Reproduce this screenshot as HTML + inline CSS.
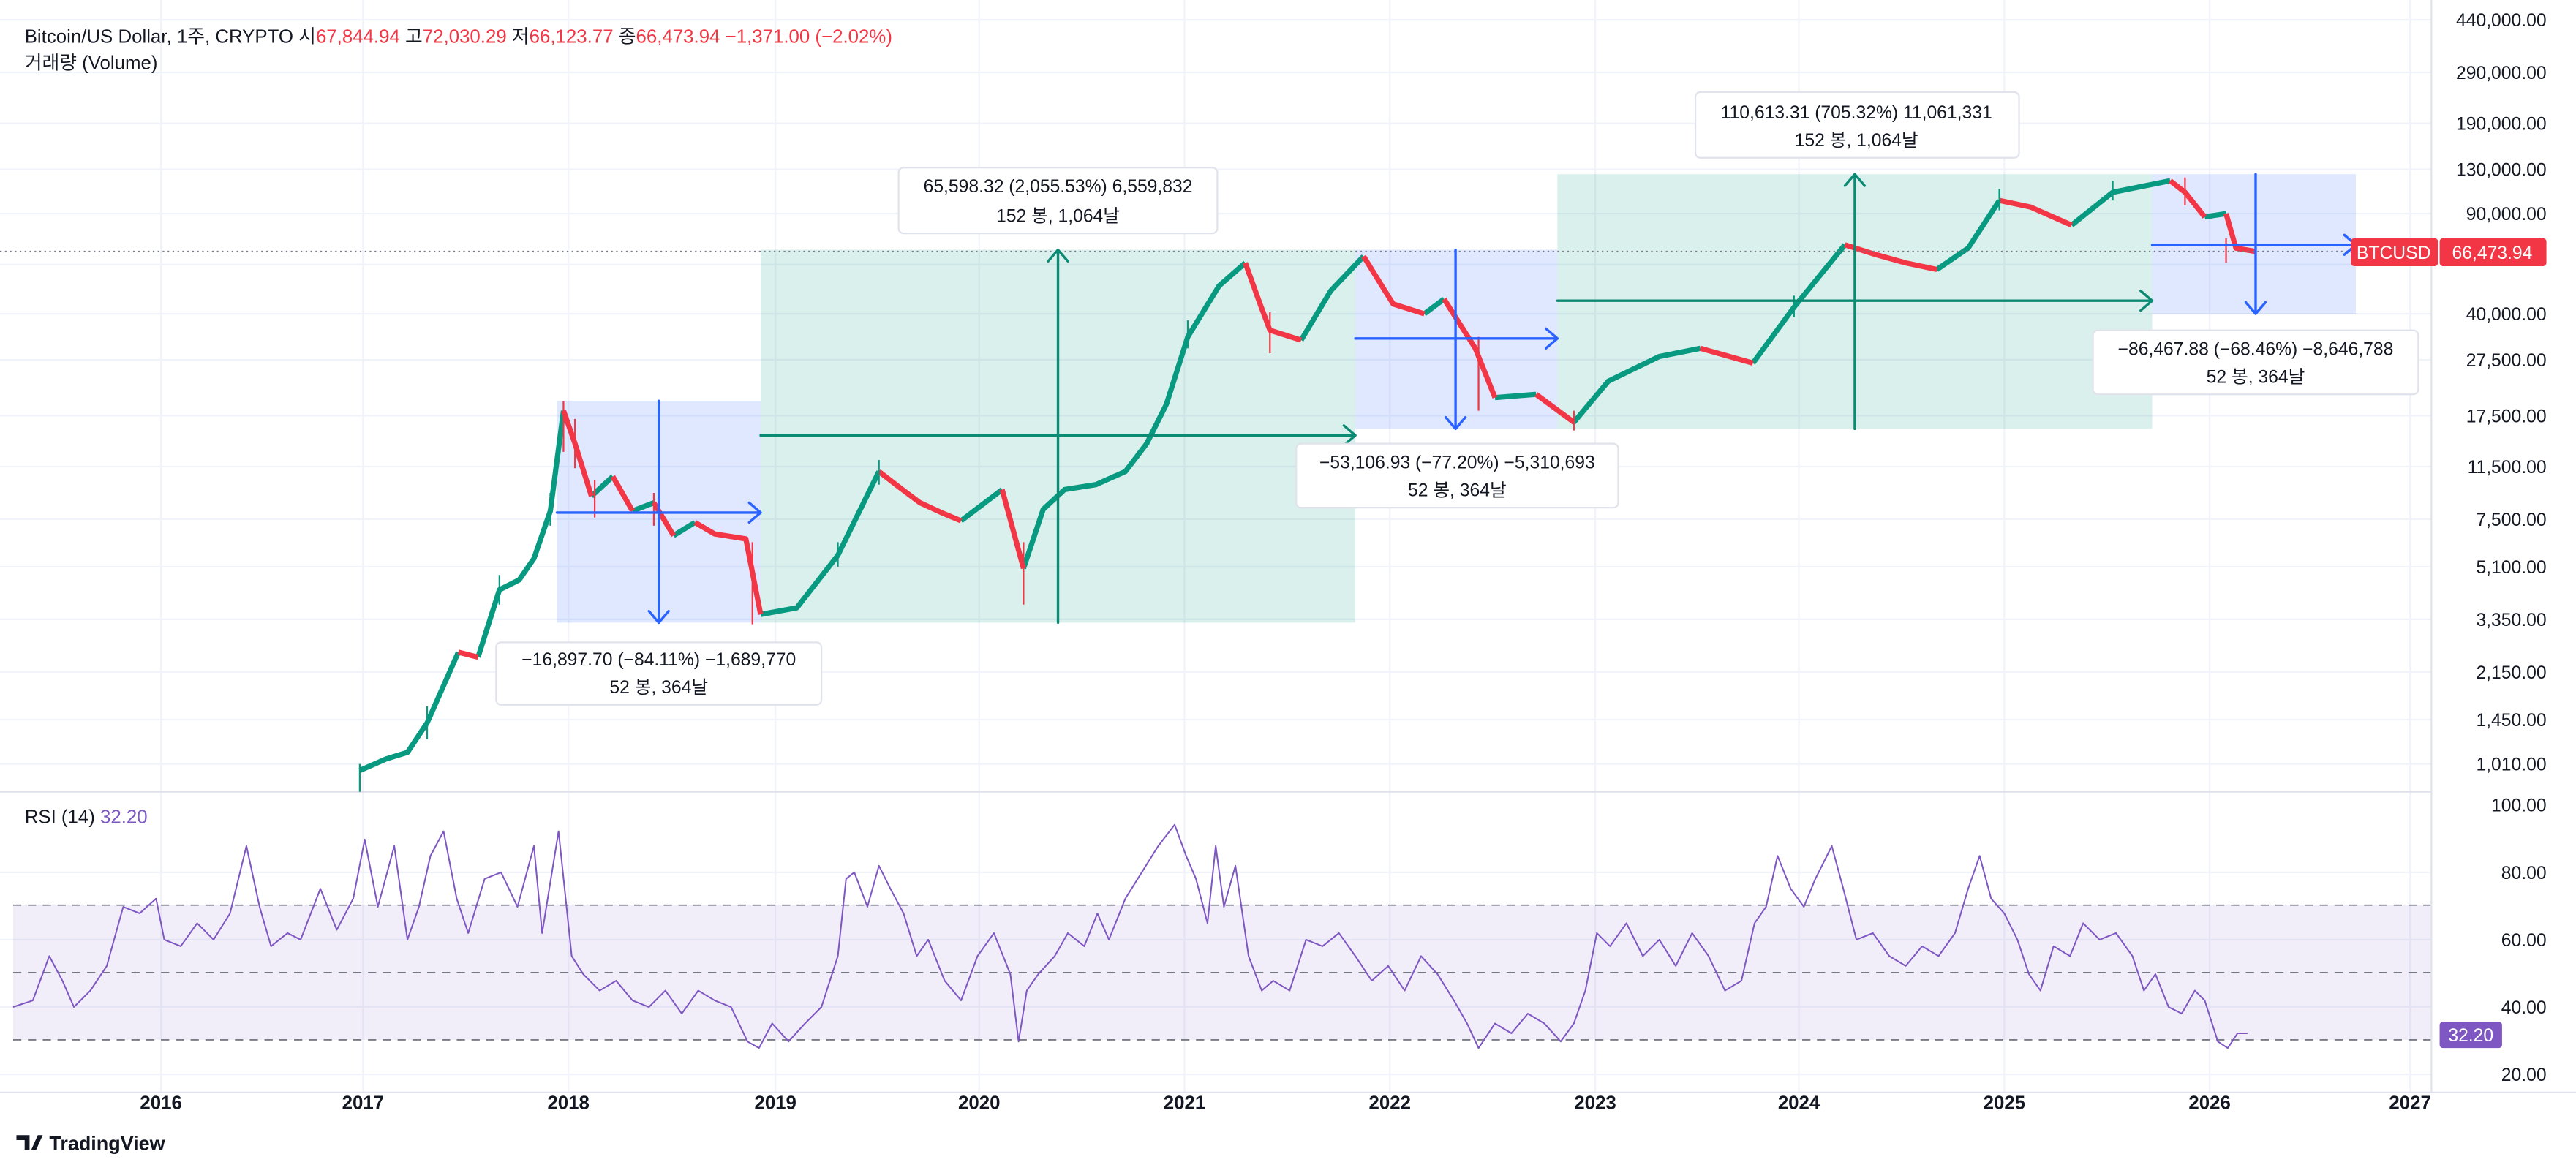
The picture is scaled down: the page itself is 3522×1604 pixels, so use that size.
<!DOCTYPE html>
<html><head><meta charset="utf-8"><style>
html,body{margin:0;padding:0;background:#fff;}
svg{display:block;font-family:"Liberation Sans","Noto Sans CJK KR",sans-serif;}
</style></head><body>
<svg width="3522" height="1604" viewBox="0 0 1568 714" xmlns="http://www.w3.org/2000/svg">
<rect width="1568" height="714" fill="#fff"/>
<g stroke="#f0f3fa" stroke-width="1">
<path d="M98 0V665M221 0V665M346 0V665M472 0V665M596 0V665M721 0V665M846 0V665M971 0V665M1095 0V665M1220 0V665M1345 0V665M1467 0V665"/>
<path d="M0 12H1480M0 44H1480M0 75H1480M0 103H1480M0 130H1480M0 161H1480M0 191H1480M0 219H1480M0 253H1480M0 284H1480M0 316H1480M0 345H1480M0 377H1480M0 409H1480M0 438H1480M0 465H1480M0 531H1480M0 572H1480M0 613H1480M0 654H1480"/>
</g>
<rect x="8" y="551" width="1472" height="82" fill="#7e57c2" fill-opacity="0.1"/>
<g stroke="#787b86" stroke-dasharray="5,4" stroke-width="0.8">
<line x1="8" y1="551" x2="1480" y2="551"/><line x1="8" y1="592" x2="1480" y2="592"/><line x1="8" y1="633" x2="1480" y2="633"/></g>
<line x1="0" y1="482" x2="1480" y2="482" stroke="#e0e3eb"/>
<line x1="1480" y1="0" x2="1480" y2="665" stroke="#e0e3eb"/>
<line x1="0" y1="665" x2="1568" y2="665" stroke="#e0e3eb"/>
<rect x="339" y="244" width="124" height="135" fill="#2962ff" fill-opacity="0.15"/>
<rect x="463" y="152" width="362" height="227" fill="#089981" fill-opacity="0.15"/>
<rect x="825" y="152" width="123" height="109" fill="#2962ff" fill-opacity="0.15"/>
<rect x="948" y="106" width="362" height="155" fill="#089981" fill-opacity="0.15"/>
<rect x="1310" y="106" width="124" height="85" fill="#2962ff" fill-opacity="0.15"/>
<!-- price -->
<g fill="none" stroke-width="3.2" stroke-linejoin="round" stroke-linecap="butt">
<path stroke="#089981" d="M219 469L235 462L248 458L260 440L279 397M291 400L304 359L316 353L325 340L335 311L343 250M360 302L373 290M385 311L398 306M410 326L423 318M463 374L485 370L510 338L535 287M585 317L610 298M623 346L635 310L648 298L667 295L685 287L698 270L710 246L723 205L742 174L758 160M792 207L810 177L830 156M867 191L879 182M910 242L935 240M958 257L979 232L1010 217L1035 212M1067 221L1092 187L1123 149M1179 164L1198 151L1217 122M1261 137L1286 117L1321 110M1342 132L1355 130"/>
<path stroke="#f23645" d="M279 397L291 400M343 250L350 270L360 302M373 290L385 311M398 306L410 326M423 318L435 325L454 328L463 374M535 287L548 297L560 306L573 312L585 317M610 298L623 346M758 160L767 185L773 201L792 207M830 156L848 185L867 191M879 182L898 212L910 242M935 240L958 257M1035 212L1067 221M1123 149L1142 155L1160 160L1179 164M1217 122L1236 126L1261 137M1321 110L1330 117L1342 132M1355 130L1361 151L1373 153"/>
</g>
<g stroke-width="1" fill="none">
<path stroke="#f23645" d="M343 244V275M350 255V285M362 292V315M398 300V320M458 330V380M623 330V368M773 190V215M900 205V250M958 250V262M1330 108V125M1355 145V160"/>
<path stroke="#089981" d="M219 465V482M260 430V450M304 350V368M335 300V320M510 330V345M535 280V295M723 195V212M1092 180V193M1217 115V128M1286 110V122"/>
</g>
<line x1="0" y1="153" x2="1480" y2="153" stroke="#787b86" stroke-dasharray="1,2" stroke-width="0.8"/>
<g fill="none" stroke-width="1.5" stroke-linecap="round" stroke-linejoin="round">
<g stroke="#2962ff"><path d="M401 244V379M395 372l6 7 6-7M339 312H463M456 306l7 6-7 6"/>
<path d="M886 152V261M880 254l6 7 6-7M825 206H948M941 200l7 6-7 6"/>
<path d="M1373 106V191M1367 184l6 7 6-7M1310 149H1434M1427 143l7 6-7 6"/></g>
<g stroke="#0b8a74"><path d="M644 379V152M638 159l6-7 6 7M463 265H825M818 259l7 6-7 6"/>
<path d="M1129 261V106M1123 113l6-7 6 7M948 183H1310M1303 177l7 6-7 6"/></g>
</g>
<g font-size="11" fill="#131722" text-anchor="middle">
<rect x="302" y="391" width="198" height="38" rx="3" fill="#fff" stroke="#e0e3eb"/>
<text x="401" y="405">−16,897.70 (−84.11%) −1,689,770</text><text x="401" y="422">52 봉, 364날</text>
<rect x="547" y="102" width="194" height="40" rx="3" fill="#fff" stroke="#e0e3eb"/>
<text x="644" y="117">65,598.32 (2,055.53%) 6,559,832</text><text x="644" y="135">152 봉, 1,064날</text>
<rect x="789" y="270" width="196" height="39" rx="3" fill="#fff" stroke="#e0e3eb"/>
<text x="887" y="285">−53,106.93 (−77.20%) −5,310,693</text><text x="887" y="302">52 봉, 364날</text>
<rect x="1032" y="56" width="197" height="40" rx="3" fill="#fff" stroke="#e0e3eb"/>
<text x="1130" y="72">110,613.31 (705.32%) 11,061,331</text><text x="1130" y="89">152 봉, 1,064날</text>
<rect x="1274" y="201" width="198" height="39" rx="3" fill="#fff" stroke="#e0e3eb"/>
<text x="1373" y="216">−86,467.88 (−68.46%) −8,646,788</text><text x="1373" y="233">52 봉, 364날</text>
</g>
<!-- RSI -->
<polyline fill="none" stroke="#7e57c2" stroke-width="0.9" stroke-linejoin="round" points="8,613 20,609 30,582 38,597 45,613 55,603 65,588 75,552 85,556 95,547 100,572 110,576 120,562 130,572 140,556 150,515 158,552 165,576 175,568 183,572 195,541 205,566 215,547 222,511 230,552 240,515 248,572 255,552 262,521 270,506 278,547 285,568 295,535 305,531 315,552 325,515 330,568 340,506 348,582 355,593 365,603 375,597 385,609 395,613 405,603 415,617 425,603 435,609 445,613 455,634 462,638 470,623 480,634 490,623 500,613 510,582 515,535 520,531 528,552 535,527 542,541 550,556 558,582 565,572 575,597 585,609 595,582 605,568 615,593 620,634 625,603 632,593 642,582 650,568 660,576 668,556 675,572 685,547 695,531 705,515 715,502 722,521 728,535 735,562 740,515 745,552 752,527 760,582 768,603 775,597 785,603 795,572 805,576 815,568 825,582 835,597 845,588 855,603 865,582 875,593 885,609 893,623 900,638 910,623 920,629 930,617 940,623 950,634 958,623 965,603 972,568 980,576 990,562 1000,582 1010,572 1020,588 1030,568 1040,582 1050,603 1060,597 1068,562 1075,552 1082,521 1090,541 1098,552 1105,535 1115,515 1122,541 1130,572 1140,568 1150,582 1160,588 1170,576 1180,582 1190,568 1198,541 1205,521 1212,547 1220,556 1228,572 1235,593 1242,603 1250,576 1260,582 1268,562 1278,572 1288,568 1298,582 1305,603 1312,593 1320,613 1328,617 1336,603 1342,609 1350,634 1356,638 1362,629 1368,629"/>
<g font-size="11" fill="#131722" text-anchor="end">
<text x="1550" y="16">440,000.00</text><text x="1550" y="48">290,000.00</text><text x="1550" y="79">190,000.00</text>
<text x="1550" y="107">130,000.00</text><text x="1550" y="134">90,000.00</text><text x="1550" y="195">40,000.00</text>
<text x="1550" y="223">27,500.00</text><text x="1550" y="257">17,500.00</text><text x="1550" y="288">11,500.00</text>
<text x="1550" y="320">7,500.00</text><text x="1550" y="349">5,100.00</text><text x="1550" y="381">3,350.00</text>
<text x="1550" y="413">2,150.00</text><text x="1550" y="442">1,450.00</text><text x="1550" y="469">1,010.00</text>
<text x="1550" y="494">100.00</text><text x="1550" y="535">80.00</text><text x="1550" y="576">60.00</text>
<text x="1550" y="617">40.00</text><text x="1550" y="658">20.00</text>
</g>
<rect x="1431" y="145" width="53" height="17" rx="2" fill="#f23645"/>
<text x="1457" y="157.5" font-size="11" fill="#fff" text-anchor="middle">BTCUSD</text>
<rect x="1485" y="145" width="65" height="17" rx="2" fill="#f23645"/>
<text x="1517" y="157.5" font-size="11" fill="#fff" text-anchor="middle">66,473.94</text>
<rect x="1485" y="622" width="38" height="16" rx="2" fill="#7e57c2"/>
<text x="1504" y="634" font-size="11" fill="#fff" text-anchor="middle">32.20</text>
<g font-size="11.5" font-weight="bold" fill="#131722" text-anchor="middle">
<text x="98" y="675">2016</text><text x="221" y="675">2017</text><text x="346" y="675">2018</text><text x="472" y="675">2019</text>
<text x="596" y="675">2020</text><text x="721" y="675">2021</text><text x="846" y="675">2022</text><text x="971" y="675">2023</text>
<text x="1095" y="675">2024</text><text x="1220" y="675">2025</text><text x="1345" y="675">2026</text><text x="1467" y="675">2027</text>
</g>
<g font-size="11.5">
<text x="15" y="26" fill="#131722">Bitcoin/US Dollar, 1주, CRYPTO  시<tspan fill="#f23645">67,844.94</tspan>  고<tspan fill="#f23645">72,030.29</tspan>  저<tspan fill="#f23645">66,123.77</tspan>  종<tspan fill="#f23645">66,473.94</tspan>  <tspan fill="#f23645">−1,371.00 (−2.02%)</tspan></text>
<text x="15" y="42" fill="#131722">거래량 (Volume)</text>
<text x="15" y="501" fill="#131722">RSI (14)  <tspan fill="#7e57c2">32.20</tspan></text>
</g>
<g transform="translate(10,691)"><path d="M0 0h8v9h-3V3H0z M9 9l4-9h3l-4 9z" fill="#131722"/>
<text x="20" y="9" font-size="12" font-weight="bold" fill="#131722">TradingView</text></g>
</svg>
</body></html>
